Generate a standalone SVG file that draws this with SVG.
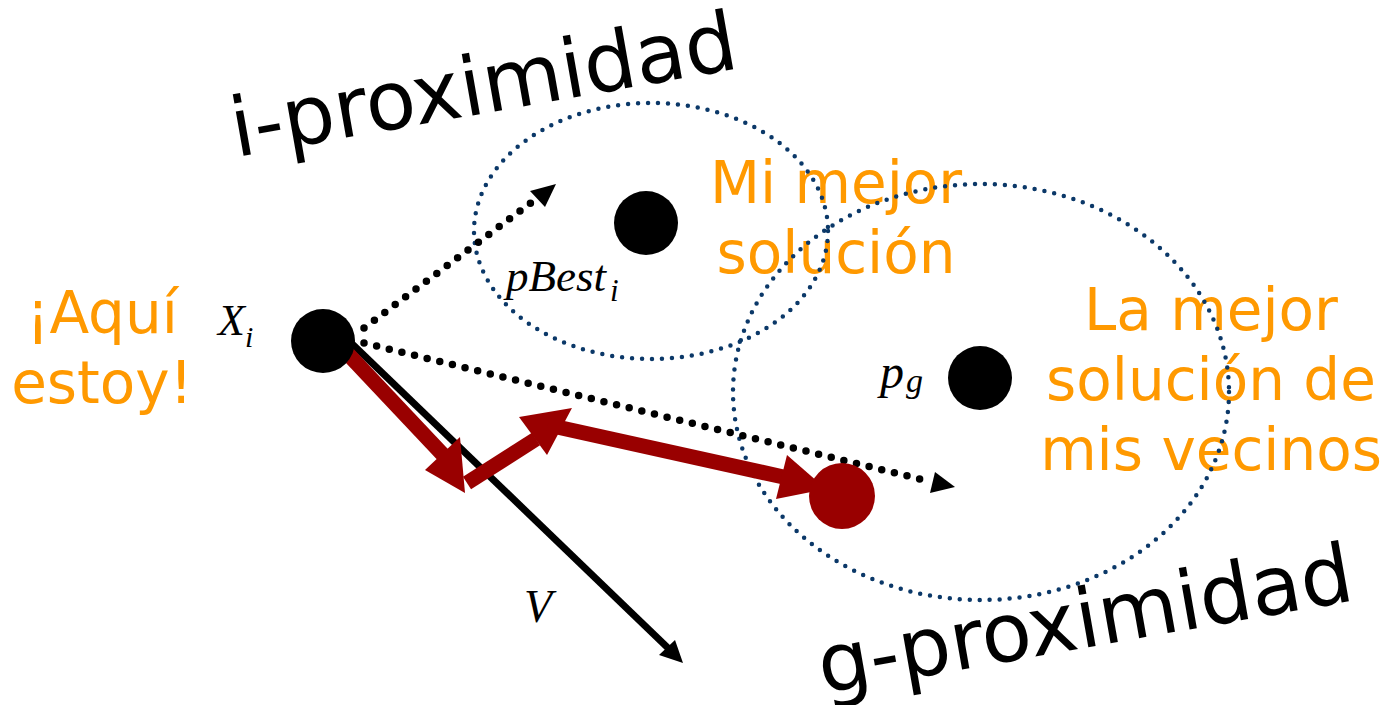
<svg xmlns="http://www.w3.org/2000/svg" width="1389" height="705" viewBox="0 0 1389 705">
<style>
.orange{font-family:"DejaVu Sans",Verdana,sans-serif;font-size:58px;fill:#FF9900;text-anchor:middle}
.big{font-family:"DejaVu Sans",Verdana,sans-serif;font-size:82px;fill:#000}
.math{font-family:"Liberation Serif","Times New Roman",serif;font-style:italic;fill:#000}
.zone{fill:none;stroke:#0b3868;stroke-width:4.5;stroke-dasharray:0 10;stroke-linecap:round}
.dots{fill:none;stroke:#000;stroke-width:7.5;stroke-dasharray:0 13;stroke-linecap:round}
.red{fill:none;stroke:#990000;stroke-width:15}
</style>
<rect width="1389" height="705" fill="#fff"/>
<g id="labels-orange">
<text class="orange" x="836" y="203">Mi mejor</text>
<text class="orange" x="836" y="273">solución</text>
<text class="orange" x="1211" y="330">La mejor</text>
<text class="orange" x="1211" y="400">solución de</text>
<text class="orange" x="1211" y="470">mis vecinos</text>
<text class="orange" x="102" y="333">¡Aquí</text>
<text class="orange" x="102" y="403">estoy!</text>
</g>
<g id="i-proximidad">
<ellipse class="zone" cx="651" cy="231" rx="177" ry="128"/>
<text class="big" transform="translate(236,157) rotate(-10)">i-proximidad</text>
</g>
<g id="g-proximidad">
<ellipse class="zone" cx="981" cy="392" rx="248" ry="208"/>
<text class="big" transform="translate(823,694) rotate(-10)">g-proximidad</text>
</g>
<g id="connectors">
<line class="dots" x1="364" y1="328" x2="532" y2="202"/>
<polygon points="556,184 530,191 545,207" fill="#000"/>
<line class="dots" x1="364" y1="343" x2="924" y2="480"/>
<polygon points="955,487 935,472 930,493" fill="#000"/>
<line x1="345" y1="337" x2="668" y2="648" stroke="#000" stroke-width="7"/>
<polygon points="683,663 659,655 675,640" fill="#000"/>
<line class="red" x1="330" y1="335" x2="446" y2="458"/>
<polygon points="425,470 460,437 465,493" fill="#990000"/>
<line class="red" x1="467" y1="483" x2="536" y2="439"/>
<polygon points="519,417 547,455 572,408" fill="#990000"/>
<line class="red" x1="548" y1="425" x2="788" y2="478"/>
<polygon points="787,455 776,499 826,489" fill="#990000"/>
</g>
<g id="node-xi">
<circle cx="323" cy="341" r="32" fill="#000"/>
<text class="math" x="218" y="335" font-size="44">X<tspan font-size="30" dy="12">i</tspan></text>
</g>
<g id="node-pbest">
<circle cx="646" cy="223" r="32" fill="#000"/>
<text class="math" x="506" y="291" font-size="45">pBest<tspan font-size="31" dx="4" dy="10">i</tspan></text>
</g>
<g id="node-pg">
<circle cx="980" cy="378" r="32" fill="#000"/>
<text class="math" x="880" y="388" font-size="48">p<tspan font-size="34" dx="2" dy="4">g</tspan></text>
</g>
<g id="node-new">
<circle cx="842" cy="496" r="33" fill="#990000"/>
</g>
<g id="label-v">
<text class="math" x="524" y="622" font-size="46">V</text>
</g>
</svg>
